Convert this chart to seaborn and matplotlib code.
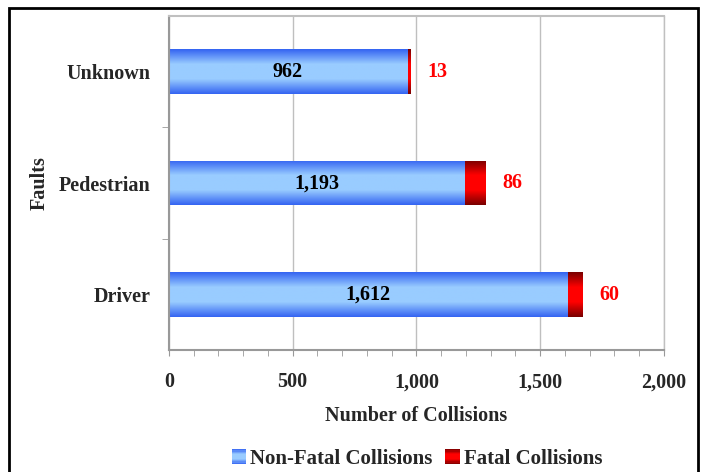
"""Horizontal stacked bar chart of collisions by fault, saved to out.png"""

import numpy as np
import pandas as pd
import matplotlib.pyplot as plt
import seaborn as sns
from matplotlib.patches import Rectangle
from matplotlib.ticker import MultipleLocator, FuncFormatter
from matplotlib.colors import LinearSegmentedColormap
from matplotlib.legend_handler import HandlerBase

faults = ["Unknown", "Pedestrian", "Driver"]
non_fatal = [962, 1193, 1612]
fatal = [13, 86, 60]

df = pd.DataFrame({"Faults": faults, "Non-Fatal": non_fatal, "Fatal": fatal})
df["Total"] = df["Non-Fatal"] + df["Fatal"]

sns.set_style("white")
plt.rcParams["font.family"] = ["Liberation Serif", "DejaVu Serif"]
plt.rcParams["font.weight"] = "bold"

FS = 14.5

blue_cmap = LinearSegmentedColormap.from_list("b", ["#3565f2", "#99ccff", "#99ccff", "#3565f2"])
red_cmap = LinearSegmentedColormap.from_list("r", ["#7a0000", "#ff0000", "#ff0000", "#7a0000"])


class GradientHandler(HandlerBase):
    """Legend key drawn as horizontal stripes of a colormap"""

    def __init__(self, cmap):
        super().__init__()
        self.cmap = cmap

    def create_artists(self, legend, orig_handle, xdescent, ydescent,
                       width, height, fontsize, trans):
        k = 12
        arts = []
        for j in range(k):
            r = Rectangle((-xdescent, -ydescent + height * j / k), width, height / k + 0.3,
                          facecolor=self.cmap((j + 0.5) / k), edgecolor="none",
                          transform=trans)
            arts.append(r)
        return arts


fig = plt.figure(figsize=(7.13, 4.72), dpi=100)
ax = fig.add_axes([0.237, 0.258, 0.694, 0.708])

sns.barplot(data=df, y="Faults", x="Total", color="#cc0000", orient="h",
            width=0.4, ax=ax, saturation=1)
sns.barplot(data=df, y="Faults", x="Non-Fatal", color="#6fa8ff", orient="h",
            width=0.4, ax=ax, saturation=1)

# vertical gradient fill for the bars
grad = np.linspace(0, 1, 64).reshape(-1, 1)
n = len(faults)
for i, p in enumerate(ax.patches):
    cmap = red_cmap if i < n else blue_cmap
    x0, y0 = p.get_x(), p.get_y()
    w, h = p.get_width(), p.get_height()
    im = ax.imshow(grad, cmap=cmap, aspect="auto", extent=[x0, x0 + w, y0 + h, y0],
                   zorder=p.get_zorder() + (0.2 if i >= n else 0.1))
    im.set_clip_path(p)
    p.set_alpha(0)

ax.set_xlim(0, 2000)
ax.set_ylim(2.5, -0.5)

for i in range(n):
    ax.text(non_fatal[i] / 2, i, f"{non_fatal[i]:,}", ha="center", va="center",
            fontsize=FS, fontweight="bold", color="black", zorder=10)
    ax.text(non_fatal[i] + fatal[i] + 110, i, f"{fatal[i]}", ha="center", va="center",
            fontsize=FS, fontweight="bold", color="#ff0000", zorder=10)

ax.xaxis.set_major_locator(MultipleLocator(500))
ax.xaxis.set_minor_locator(MultipleLocator(100))
ax.xaxis.set_major_formatter(FuncFormatter(lambda v, _: f"{int(v):,}"))
ax.grid(axis="x", which="major", color="#bfbfbf", linewidth=1)
ax.set_axisbelow(True)
ax.tick_params(axis="x", which="both", bottom=True, length=4, color="#999999",
               labelsize=FS, pad=12)
ax.tick_params(axis="y", which="major", left=False, labelsize=FS, pad=10)
ax.set_yticks([0.5, 1.5], minor=True)
ax.tick_params(axis="y", which="minor", left=True, length=5, color="#999999")

for side in ["left", "bottom"]:
    ax.spines[side].set_color("#999999")
    ax.spines[side].set_linewidth(1.5)
ax.spines["top"].set_color("#c0c0c0")
ax.spines["top"].set_linewidth(1.5)
ax.spines["right"].set_color("#c0c0c0")
ax.spines["right"].set_linewidth(1)

ax.set_xlabel("Number of Collisions", fontsize=FS, fontweight="bold", labelpad=10)
ax.set_ylabel("Faults", fontsize=FS, fontweight="bold", labelpad=6)
for lab in ax.get_xticklabels() + ax.get_yticklabels():
    lab.set_fontweight("bold")

h_blue = Rectangle((0, 0), 1, 1)
h_red = Rectangle((0, 0), 1, 1)
fig.legend([h_blue, h_red], ["Non-Fatal Collisions", "Fatal Collisions"], loc="center",
           bbox_to_anchor=(0.585, 0.028), ncol=2, frameon=False,
           handlelength=0.7, handleheight=0.7, handletextpad=0.2, columnspacing=0.6,
           prop={"weight": "bold", "size": 15},
           handler_map={h_blue: GradientHandler(blue_cmap), h_red: GradientHandler(red_cmap)})

# outer frame
fig.patches.append(Rectangle((9 / 713, -0.1), 689 / 713, 1.1 - 8 / 472,
                             transform=fig.transFigure, fill=False,
                             edgecolor="black", linewidth=2))

fig.savefig("out.png", dpi=100)
plt.close(fig)
